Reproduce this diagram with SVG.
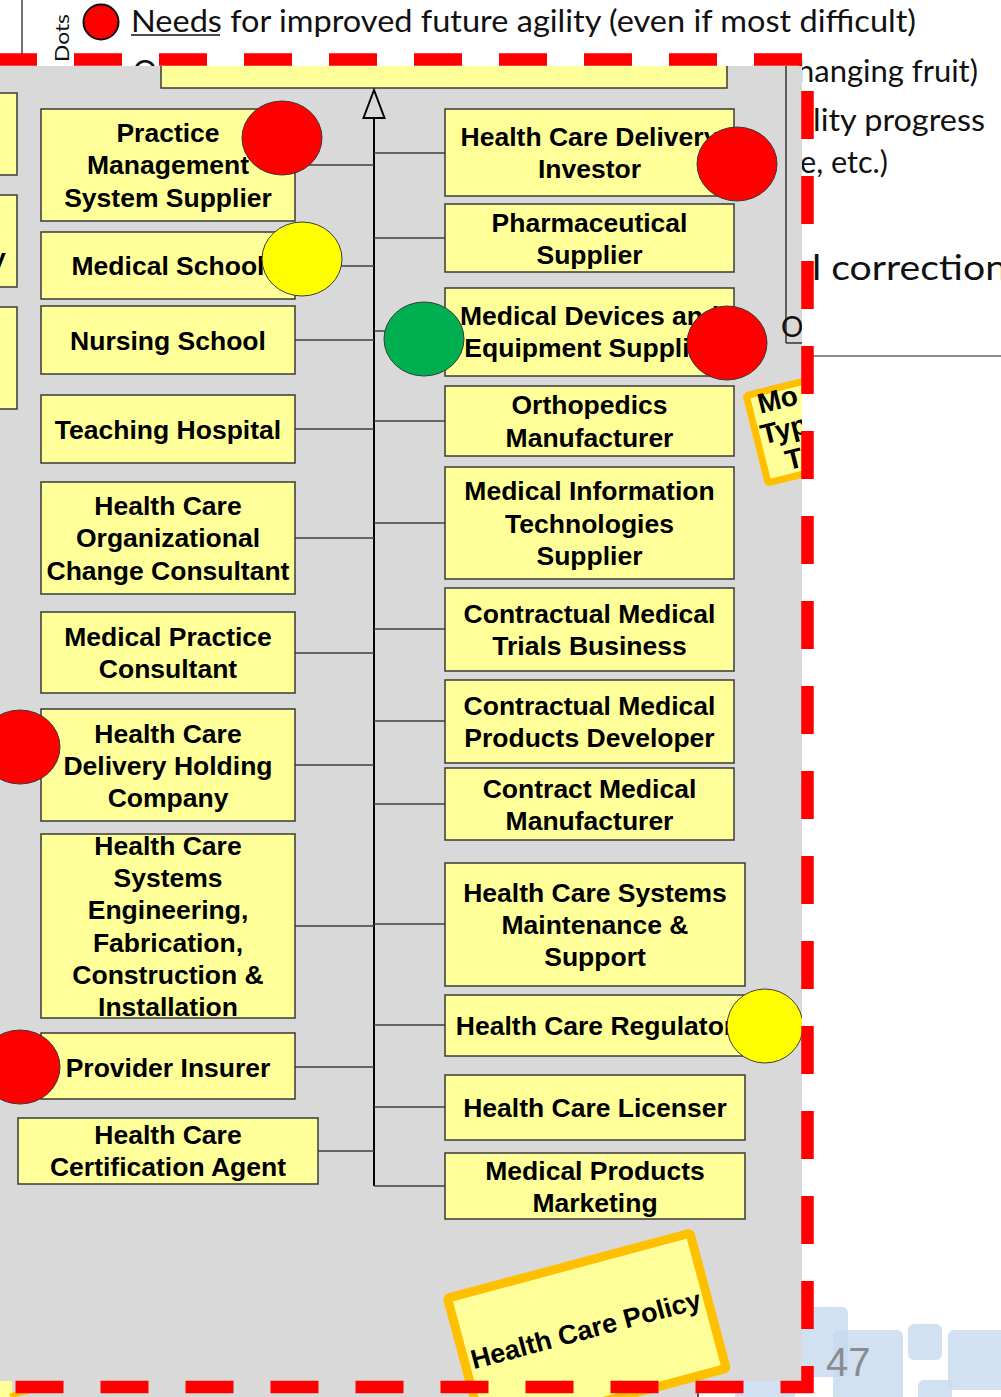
<svg xmlns="http://www.w3.org/2000/svg" width="1001" height="1397" viewBox="0 0 1001 1397">
<style>
.bx{fill:#FFFF99;stroke:#3a3a3a;stroke-width:1.5}
.t{font-family:"Liberation Sans",Arial,sans-serif;font-weight:bold;font-size:26.5px;fill:#000;text-anchor:middle}
.bg{font-family:Lato,"Open Sans",sans-serif;fill:#111}
.cn{stroke:#404040;stroke-width:1.3;fill:none}
.red{fill:#FF0000;stroke:#3a3a3a;stroke-width:1}
.yel{fill:#FFFF00;stroke:#3a3a3a;stroke-width:1}
.grn{fill:#00B050;stroke:#3a3a3a;stroke-width:1}
.note{fill:#FFFF99;stroke:#FFC000;stroke-linejoin:round}
.blu{fill:#C6D9EF;opacity:0.8}
</style>
<defs>
<clipPath id="fg"><path d="M0,66 H802 V1381 H698 V1397 H0 Z"/></clipPath>
</defs>
<rect x="0" y="0" width="1001" height="1397" fill="#fff"/>
<g id="background-text">
<line x1="22" y1="0" x2="22" y2="55" stroke="#444" stroke-width="1.5"/>
<text class="bg" font-size="20" transform="translate(69,62) rotate(-90)" textLength="48" lengthAdjust="spacingAndGlyphs">Dots</text>
<circle cx="101" cy="22" r="17.5" fill="#FF0000" stroke="#111" stroke-width="2"/>
<text class="bg" x="131" y="32" font-size="30" textLength="785" lengthAdjust="spacingAndGlyphs">Needs for improved future agility (even if most difficult)</text>
<line x1="131" y1="35" x2="220" y2="35" stroke="#111" stroke-width="1.5"/>
<text class="bg" x="133" y="82" font-size="30">O</text>
<text class="bg" x="797" y="82" font-size="30" textLength="181" lengthAdjust="spacingAndGlyphs">hanging fruit)</text>
<text class="bg" x="813" y="131" font-size="30" textLength="172" lengthAdjust="spacingAndGlyphs">lity progress</text>
<text class="bg" x="800" y="173" font-size="30" textLength="88" lengthAdjust="spacingAndGlyphs">e, etc.)</text>
<text class="bg" x="812" y="280" font-size="35" textLength="195" lengthAdjust="spacingAndGlyphs">l correction</text>
<line x1="813" y1="356" x2="1001" y2="356" stroke="#666" stroke-width="1.5"/>
<rect class="blu" x="802" y="1307" width="46" height="70" rx="6"/>
<rect class="blu" x="833" y="1330" width="70" height="80" rx="6"/>
<rect class="blu" x="908" y="1324" width="34" height="36" rx="6"/>
<rect class="blu" x="948" y="1330" width="70" height="60" rx="6"/>
<rect class="blu" x="918" y="1380" width="34" height="30" rx="6"/>
<rect class="blu" x="735" y="1378" width="60" height="30" rx="6"/>
<text x="826" y="1376" font-family="'Liberation Sans',Arial,sans-serif" font-size="40" fill="#8c8c8c">47</text>
</g>
<path d="M0,66 H802 V1381 H698 V1397 H0 Z" fill="#D9D9D9"/>
<line x1="698" y1="1381" x2="698" y2="1397" stroke="#222" stroke-width="1.5"/>
<g clip-path="url(#fg)">
<g id="top-box"><rect class="bx" x="161" y="20" width="566" height="68"/></g>
<g id="left-partials">
<rect class="bx" x="-4" y="93" width="21" height="82"/>
<rect class="bx" x="-4" y="195" width="21" height="92"/>
<text class="t" x="-9" y="267" style="text-anchor:start">y</text>
<rect class="bx" x="-4" y="307" width="21" height="102"/>
</g>
<line x1="786" y1="66" x2="786" y2="343" stroke="#333" stroke-width="1.5"/>
<line x1="786" y1="343" x2="802" y2="343" stroke="#333" stroke-width="1.5"/>
<text x="781" y="337" font-family="Lato,'Open Sans',sans-serif" font-size="28" fill="#111">O</text>
<g id="connectors">
<line x1="374" y1="118" x2="374" y2="1186" stroke="#000" stroke-width="2"/>
<polygon points="374,90 363.5,118 384.5,118" fill="#D9D9D9" stroke="#000" stroke-width="2" stroke-linejoin="miter"/>
<path class="cn" d="M295,165H374M295,266H374M295,340H374M295,429H374M295,538H374M295,653H374M295,765H374M295,926H374M295,1067H374M318,1151H374"/>
<path class="cn" d="M374,153H445M374,238H445M374,331H445M374,421H445M374,523H445M374,629H445M374,721H445M374,804H445M374,924H445M374,1025H445M374,1107H445M374,1186H445"/>
</g>
<g id="n-practice-mgmt"><rect class="bx" x="41" y="109" width="254" height="112"/><text class="t" x="168" y="141.5">Practice</text><text class="t" x="168" y="173.5">Management</text><text class="t" x="168" y="206.5">System Supplier</text></g>
<g id="n-medical-school"><rect class="bx" x="41" y="232" width="254" height="67"/><text class="t" x="168" y="274.5">Medical School</text></g>
<g id="n-nursing-school"><rect class="bx" x="41" y="306" width="254" height="68"/><text class="t" x="168" y="349.5">Nursing School</text></g>
<g id="n-teaching-hospital"><rect class="bx" x="41" y="395" width="254" height="68"/><text class="t" x="168" y="438.5">Teaching Hospital</text></g>
<g id="n-org-change"><rect class="bx" x="41" y="482" width="254" height="112"/><text class="t" x="168" y="514.5">Health Care</text><text class="t" x="168" y="546.5">Organizational</text><text class="t" x="168" y="579.5">Change Consultant</text></g>
<g id="n-practice-consultant"><rect class="bx" x="41" y="612" width="254" height="81"/><text class="t" x="168" y="645.5">Medical Practice</text><text class="t" x="168" y="677.5">Consultant</text></g>
<g id="n-holding"><rect class="bx" x="41" y="709" width="254" height="112"/><text class="t" x="168" y="742.5">Health Care</text><text class="t" x="168" y="774.5">Delivery Holding</text><text class="t" x="168" y="806.5">Company</text></g>
<g id="n-engineering"><rect class="bx" x="41" y="834" width="254" height="184"/><text class="t" x="168" y="854.5">Health Care</text><text class="t" x="168" y="886.5">Systems</text><text class="t" x="168" y="918.5">Engineering,</text><text class="t" x="168" y="951.5">Fabrication,</text><text class="t" x="168" y="983.5">Construction &amp;</text><text class="t" x="168" y="1015.5">Installation</text></g>
<g id="n-provider-insurer"><rect class="bx" x="41" y="1033" width="254" height="66"/><text class="t" x="168" y="1076.5">Provider Insurer</text></g>
<g id="n-certification"><rect class="bx" x="18" y="1118" width="300" height="66"/><text class="t" x="168" y="1143.5">Health Care</text><text class="t" x="168" y="1175.5">Certification Agent</text></g>
<g id="n-investor"><rect class="bx" x="445" y="109" width="289" height="87"/><text class="t" x="589.5" y="145.5">Health Care Delivery</text><text class="t" x="589.5" y="177.5">Investor</text></g>
<g id="n-pharma"><rect class="bx" x="445" y="204" width="289" height="68"/><text class="t" x="589.5" y="231.5">Pharmaceutical</text><text class="t" x="589.5" y="263.5">Supplier</text></g>
<g id="n-devices"><rect class="bx" x="445" y="288" width="289" height="88"/><text class="t" x="589.5" y="324.5">Medical Devices and</text><text class="t" x="589.5" y="356.5">Equipment Supplier</text></g>
<g id="n-ortho"><rect class="bx" x="445" y="386" width="289" height="70"/><text class="t" x="589.5" y="413.5">Orthopedics</text><text class="t" x="589.5" y="446.5">Manufacturer</text></g>
<g id="n-mit"><rect class="bx" x="445" y="467" width="289" height="112"/><text class="t" x="589.5" y="499.5">Medical Information</text><text class="t" x="589.5" y="532.5">Technologies</text><text class="t" x="589.5" y="564.5">Supplier</text></g>
<g id="n-trials"><rect class="bx" x="445" y="588" width="289" height="83"/><text class="t" x="589.5" y="622.5">Contractual Medical</text><text class="t" x="589.5" y="654.5">Trials Business</text></g>
<g id="n-products-dev"><rect class="bx" x="445" y="680" width="289" height="83"/><text class="t" x="589.5" y="714.5">Contractual Medical</text><text class="t" x="589.5" y="746.5">Products Developer</text></g>
<g id="n-contract-mfr"><rect class="bx" x="445" y="768" width="289" height="72"/><text class="t" x="589.5" y="797.5">Contract Medical</text><text class="t" x="589.5" y="829.5">Manufacturer</text></g>
<g id="n-maintenance"><rect class="bx" x="445" y="863" width="300" height="123"/><text class="t" x="595" y="901.5">Health Care Systems</text><text class="t" x="595" y="933.5">Maintenance &amp;</text><text class="t" x="595" y="965.5">Support</text></g>
<g id="n-regulator"><rect class="bx" x="445" y="995" width="300" height="61"/><text class="t" x="595" y="1034.5">Health Care Regulator</text></g>
<g id="n-licenser"><rect class="bx" x="445" y="1075" width="300" height="65"/><text class="t" x="595" y="1116.5">Health Care Licenser</text></g>
<g id="n-marketing"><rect class="bx" x="445" y="1153" width="300" height="66"/><text class="t" x="595" y="1179.5">Medical Products</text><text class="t" x="595" y="1211.5">Marketing</text></g>
<g id="dots">
<ellipse class="red" cx="282" cy="138" rx="40" ry="37"/>
<ellipse class="yel" cx="302" cy="259" rx="40" ry="37"/>
<ellipse class="grn" cx="424" cy="339" rx="40" ry="37"/>
<ellipse class="red" cx="737" cy="164" rx="40" ry="37"/>
<ellipse class="red" cx="727" cy="343" rx="40" ry="37"/>
<ellipse class="red" cx="20" cy="747" rx="40" ry="37"/>
<ellipse class="red" cx="20" cy="1067" rx="40" ry="37"/>
<ellipse class="yel" cx="765" cy="1026" rx="38" ry="37"/>
</g>
<g id="note-types" transform="translate(742,393) rotate(-14)">
<rect class="note" x="3.5" y="3.5" width="200" height="90" rx="2" stroke-width="7"/>
<text class="t" x="12.6" y="24.5" style="text-anchor:start;font-size:28px">Mo</text>
<text class="t" x="8.1" y="55" style="text-anchor:start;font-size:28px">Typ</text>
<text class="t" x="26" y="86" style="text-anchor:start;font-size:28px">T</text>
</g>
<g id="note-policy" transform="translate(442,1295) rotate(-15)">
<rect class="note" x="4.5" y="4.5" width="251" height="140" rx="2" stroke-width="9"/>
<text class="t" x="130" y="80" style="font-size:27px">Health Care Policy</text>
</g>
<g id="note-partial">
<rect x="0" y="1381" width="12" height="16" fill="#FFFF99"/>
<line x1="60" y1="1383" x2="10" y2="1396" stroke="#FFC000" stroke-width="5"/>
</g>
</g>
<path d="M0,59.5 H807.5 V1387 H0" fill="none" stroke="#FF0000" stroke-width="12.5" stroke-dasharray="48 37" stroke-dashoffset="11"/>
</svg>
